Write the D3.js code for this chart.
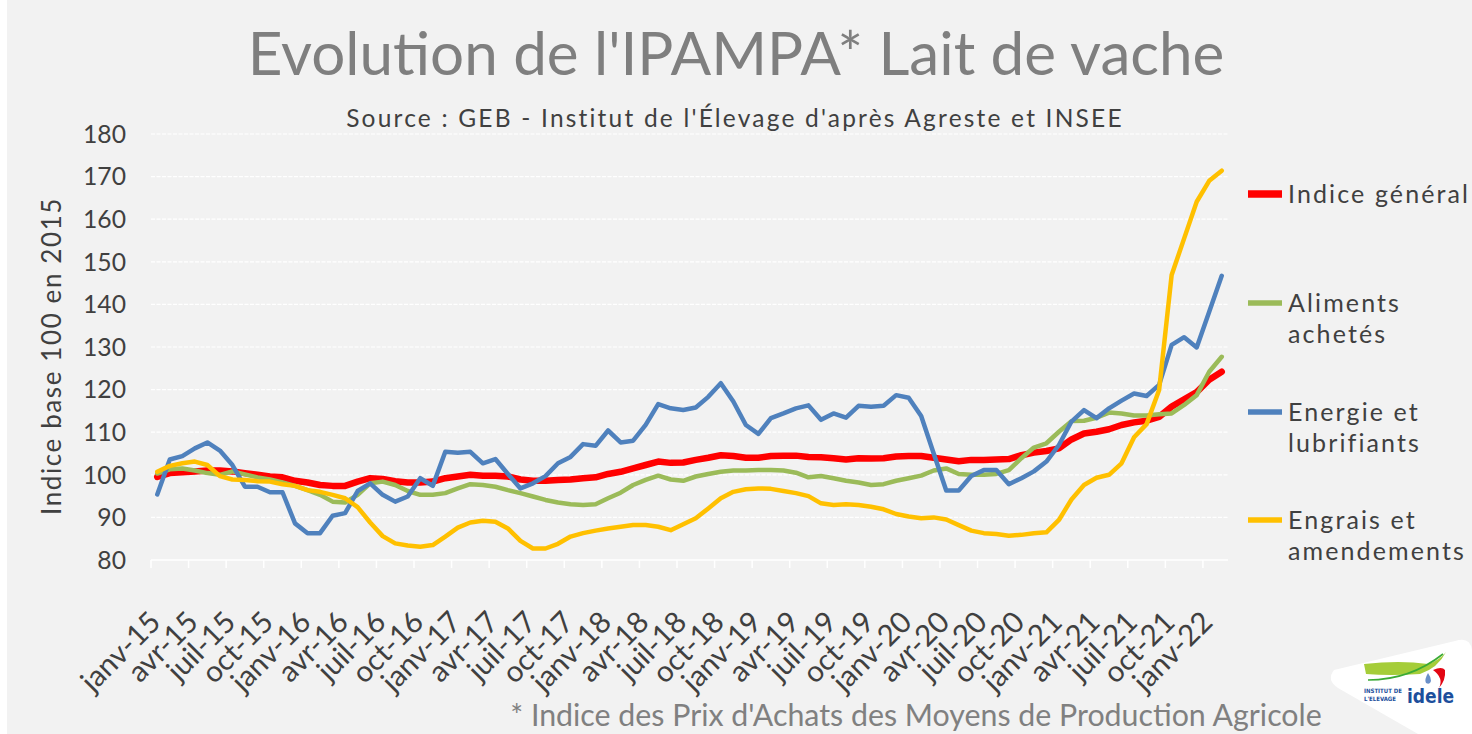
<!DOCTYPE html>
<html>
<head>
<meta charset="utf-8">
<script src="https://cdn.jsdelivr.net/npm/d3@7"></script>
<style>
  body { margin: 0; background: #fff; }
  svg { display: block; }
</style>
</head>
<body>
<div id="chart"></div>
<script>
var categories = [
  "janv-15","févr-15","mars-15","avr-15","mai-15","juin-15","juil-15","août-15","sept-15","oct-15","nov-15","déc-15",
  "janv-16","févr-16","mars-16","avr-16","mai-16","juin-16","juil-16","août-16","sept-16","oct-16","nov-16","déc-16",
  "janv-17","févr-17","mars-17","avr-17","mai-17","juin-17","juil-17","août-17","sept-17","oct-17","nov-17","déc-17",
  "janv-18","févr-18","mars-18","avr-18","mai-18","juin-18","juil-18","août-18","sept-18","oct-18","nov-18","déc-18",
  "janv-19","févr-19","mars-19","avr-19","mai-19","juin-19","juil-19","août-19","sept-19","oct-19","nov-19","déc-19",
  "janv-20","févr-20","mars-20","avr-20","mai-20","juin-20","juil-20","août-20","sept-20","oct-20","nov-20","déc-20",
  "janv-21","févr-21","mars-21","avr-21","mai-21","juin-21","juil-21","août-21","sept-21","oct-21","nov-21","déc-21",
  "janv-22","févr-22"
];

var xTickLabels = [
  "janv-15","avr-15","juil-15","oct-15","janv-16","avr-16","juil-16","oct-16",
  "janv-17","avr-17","juil-17","oct-17","janv-18","avr-18","juil-18","oct-18",
  "janv-19","avr-19","juil-19","oct-19","janv-20","avr-20","juil-20","oct-20",
  "janv-21","avr-21","juil-21","oct-21","janv-22"
];

var yTicks = [80, 90, 100, 110, 120, 130, 140, 150, 160, 170, 180];

// Indice général
var indiceGeneral = [
  99.5, 100.4, 100.6, 100.8, 101.0, 101.0, 100.8, 100.4, 100.0, 99.6, 99.4, 98.6,
  98.2, 97.6, 97.4, 97.4, 98.4, 99.2, 99.0, 98.5, 98.2, 98.2, 98.4, 99.2,
  99.6, 100.0, 99.8, 99.8, 99.6, 98.9, 98.6, 98.6, 98.8, 98.9, 99.2, 99.4,
  100.2, 100.7, 101.5, 102.3, 103.1, 102.8, 102.9, 103.5, 104.0, 104.6, 104.4, 104.0,
  104.0, 104.4, 104.5, 104.5, 104.2, 104.1, 103.9, 103.6, 103.9, 103.8, 103.9, 104.3,
  104.4, 104.4, 104.0, 103.6, 103.2, 103.5, 103.5, 103.6, 103.7, 104.6, 105.2, 105.6,
  106.2, 108.3, 109.7, 110.1, 110.7, 111.7, 112.3, 112.7, 113.6, 116.0, 117.7, 119.4,
  122.3, 124.2
];

// Aliments achetés
var aliments = [
  100.3, 101.3, 101.5, 101.0, 100.4, 100.0, 100.8, 100.1, 99.4, 98.9, 98.2, 97.4,
  96.4, 95.3, 93.7, 93.5, 95.3, 98.0, 98.4, 97.6, 96.2, 95.3, 95.3, 95.7,
  96.8, 97.8, 97.6, 97.2, 96.4, 95.7, 94.9, 94.1, 93.5, 93.1, 92.9, 93.1,
  94.5, 95.8, 97.6, 98.8, 99.8, 98.9, 98.6, 99.6, 100.2, 100.7, 101.0, 101.0,
  101.1, 101.1, 101.0, 100.5, 99.4, 99.7, 99.2, 98.6, 98.2, 97.6, 97.8, 98.6,
  99.2, 99.8, 101.0, 101.5, 100.2, 100.0, 100.0, 100.2, 101.1, 103.9, 106.4, 107.4,
  110.1, 112.6, 112.7, 113.4, 114.6, 114.4, 113.9, 113.9, 114.2, 114.4, 116.4, 118.7,
  124.2, 127.7
];

// Energie et lubrifiants
var energie = [
  95.4, 103.6, 104.4, 106.2, 107.6, 105.7, 102.3, 97.2, 97.2, 95.9, 95.9, 88.6,
  86.3, 86.3, 90.4, 91.0, 96.2, 98.0, 95.3, 93.7, 94.9, 99.2, 97.4, 105.4,
  105.2, 105.4, 102.7, 103.7, 100.2, 96.8, 98.0, 99.7, 102.7, 104.2, 107.2, 106.8,
  110.4, 107.6, 108.0, 111.7, 116.6, 115.6, 115.2, 115.8, 118.3, 121.5, 117.2, 111.7,
  109.6, 113.3, 114.4, 115.6, 116.3, 112.9, 114.4, 113.4, 116.2, 116.0, 116.2, 118.7,
  118.1, 113.8, 105.0, 96.3, 96.3, 99.7, 101.1, 101.1, 97.8, 99.2, 100.8, 103.1,
  107.0, 112.5, 115.2, 113.3, 115.6, 117.4, 119.1, 118.5, 121.1, 130.5, 132.3, 129.9,
  138.3, 146.7
];

// Engrais et amendements
var engrais = [
  100.7, 102.1, 102.7, 103.1, 102.3, 99.7, 98.9, 98.8, 98.5, 98.4, 97.8, 97.4,
  96.4, 96.0, 95.3, 94.5, 92.4, 88.8, 85.6, 83.9, 83.4, 83.1, 83.5, 85.5,
  87.6, 88.8, 89.2, 89.0, 87.4, 84.5, 82.7, 82.7, 83.8, 85.5, 86.3, 86.9,
  87.4, 87.8, 88.2, 88.2, 87.8, 87.0, 88.4, 89.8, 92.1, 94.5, 96.0, 96.6,
  96.8, 96.7, 96.2, 95.7, 95.0, 93.3, 92.9, 93.1, 92.9, 92.5, 91.9, 90.8,
  90.2, 89.8, 90.0, 89.5, 88.2, 86.9, 86.3, 86.1, 85.7, 85.9, 86.3, 86.5,
  89.4, 94.2, 97.6, 99.3, 100.0, 102.7, 108.8, 111.9, 119.9, 146.9, 155.5, 164.1,
  169.0, 171.4
];

var seriesLabels = [["Indice général"], ["Aliments", "achetés"], ["Energie et", "lubrifiants"], ["Engrais et", "amendements"]];
var seriesValues = [indiceGeneral, aliments, energie, engrais];
var seriesColors = ["#ff0000", "#9bbb59", "#4f81bd", "#ffc000"];
var seriesWidths = [6.5, 4.5, 4.5, 4.5];

var width = 1472, height = 734;
var plot = { left: 151, right: 1228, top: 134, bottom: 560 };
var font = "'Century Gothic', Lato, 'Open Sans', sans-serif";

var svg = d3.select("#chart").append("svg")
    .attr("width", width)
    .attr("height", height)
    .style("font-family", font);

svg.append("rect")
    .attr("x", 7).attr("y", 0)
    .attr("width", width - 7).attr("height", height)
    .attr("fill", "#f2f2f2");

var x = d3.scaleBand().domain(categories).range([plot.left, plot.right]);
var y = d3.scaleLinear().domain([80, 180]).range([plot.bottom, plot.top]);
var cx = function(c) { return x(c) + x.bandwidth() / 2; };

// scale font so a reference text gets a target width
function fit(sel, target, ref) {
  var r = ref || sel;
  var fs = parseFloat(r.attr("font-size"));
  var w = r.node().getComputedTextLength();
  sel.attr("font-size", fs * target / w);
}

// keep font size, widen with letter spacing (the original font is wide)
function spread(sel, target, ref) {
  var r = ref || sel;
  var w = r.node().getComputedTextLength();
  var n = r.text().length;
  sel.attr("letter-spacing", Math.max(0, (target - w) / n));
}

// gridlines
svg.append("g")
  .selectAll("line")
  .data(yTicks.slice(1))
  .enter().append("line")
    .attr("x1", plot.left).attr("x2", plot.right)
    .attr("y1", function(d) { return y(d); })
    .attr("y2", function(d) { return y(d); })
    .attr("stroke", "#ffffff")
    .attr("stroke-width", 1.2)
    .attr("stroke-dasharray", "4,1.5");

// x axis line + ticks between categories
svg.append("line")
    .attr("x1", plot.left).attr("x2", plot.right)
    .attr("y1", y(80)).attr("y2", y(80))
    .attr("stroke", "#ffffff").attr("stroke-width", 1.5);

svg.append("g")
  .selectAll("line")
  .data(xTickLabels)
  .enter().append("line")
    .attr("x1", function(d) { return x(d); })
    .attr("x2", function(d) { return x(d); })
    .attr("y1", y(80)).attr("y2", y(80) + 8)
    .attr("stroke", "#ffffff").attr("stroke-width", 1.5);

// y tick labels
var yLab = svg.append("g")
  .selectAll("text")
  .data(yTicks)
  .enter().append("text")
    .attr("x", 126)
    .attr("y", function(d) { return y(d); })
    .attr("dy", "0.36em")
    .attr("text-anchor", "end")
    .attr("font-size", 26)
    .attr("fill", "#404040")
    .text(function(d) { return d; });
fit(yLab, 43, yLab.filter(function(d) { return d === 180; }));

// x tick labels
var xLab = svg.append("g")
  .selectAll("text")
  .data(xTickLabels)
  .enter().append("text")
    .attr("transform", function(d) { return "translate(" + (cx(d) + 5) + ",624) rotate(-45)"; })
    .attr("text-anchor", "end")
    .attr("font-size", 24)
    .attr("fill", "#404040")
    .text(function(d) { return d; });
fit(xLab, 98, xLab.filter(function(d) { return d === "janv-15"; }));

// y axis title
var yTitle = svg.append("text")
    .attr("transform", "translate(52,356) rotate(-90)")
    .attr("dy", "0.36em")
    .attr("text-anchor", "middle")
    .attr("font-size", 26)
    .attr("fill", "#404040")
    .text("Indice base 100 en 2015");
spread(yTitle, 318);

// series
var line = d3.line()
    .x(function(d, i) { return cx(categories[i]); })
    .y(function(d) { return y(d); });

svg.append("g")
  .selectAll("path")
  .data(seriesValues)
  .enter().append("path")
    .attr("d", line)
    .attr("fill", "none")
    .attr("stroke", function(d, i) { return seriesColors[i]; })
    .attr("stroke-width", function(d, i) { return seriesWidths[i]; })
    .attr("stroke-linejoin", "round")
    .attr("stroke-linecap", "round");

// legend
var legendY = [194, 303, 412, 520];
var leg = svg.append("g")
  .selectAll("g")
  .data(seriesLabels)
  .enter().append("g")
    .attr("transform", function(d, i) { return "translate(0," + legendY[i] + ")"; });

leg.append("line")
    .attr("x1", 1248).attr("x2", 1282)
    .attr("stroke", function(d, i) { return seriesColors[i]; })
    .attr("stroke-width", function(d, i) { return seriesWidths[i] + 1; });

var legText = leg.selectAll("text")
  .data(function(d) { return d; })
  .enter().append("text")
    .attr("x", 1288)
    .attr("y", function(d, j) { return j * 31; })
    .attr("dy", "0.36em")
    .attr("font-size", 25)
    .attr("fill", "#404040")
    .text(function(d) { return d; });
spread(legText, 178, legText.filter(function(d) { return d === "amendements"; }));

// titles
var title = svg.append("text")
    .attr("x", 736).attr("y", 75)
    .attr("text-anchor", "middle")
    .attr("font-size", 56)
    .attr("fill", "#7f7f7f")
    .text("Evolution de l'IPAMPA* Lait de vache");
fit(title, 977);

var sub = svg.append("text")
    .attr("x", 735).attr("y", 127)
    .attr("text-anchor", "middle")
    .attr("font-size", 24.5)
    .attr("fill", "#404040")
    .text("Source : GEB - Institut de l'Élevage d'après Agreste et INSEE");
spread(sub, 778);

var foot = svg.append("text")
    .attr("x", 916).attr("y", 726)
    .attr("text-anchor", "middle")
    .attr("font-size", 26)
    .attr("fill", "#808080")
    .text("* Indice des Prix d'Achats des Moyens de Production Agricole");
fit(foot, 812);

// logo
var logo = svg.append("g");
logo.append("path")
    .attr("d", "M1334,670 Q1326,680 1338,688 L1418,734 L1472,734 L1472,650 Q1470,636 1455,641 Z")
    .attr("fill", "#ffffff");
logo.append("path")
    .attr("d", "M1364,664 Q1400,660 1428,664 Q1440,660 1446,652 Q1438,668 1420,674 Q1390,676 1366,674 Z")
    .attr("fill", "#a5cd39");
logo.append("path")
    .attr("d", "M1368,680 Q1410,680 1443,654")
    .attr("fill", "none").attr("stroke", "#3aaa35").attr("stroke-width", 1.6);
logo.append("path")
    .attr("d", "M1433,670 Q1442,666 1445,670 Q1446,680 1439,688 Q1444,678 1433,670 Z")
    .attr("fill", "#e30613");
logo.append("path")
    .attr("d", "M1428,673 Q1424,680 1426,683 Q1430,685 1431,681 Q1431,677 1428,673 Z")
    .attr("fill", "#6a8fc8");
logo.append("text")
    .attr("x", 1364).attr("y", 693)
    .attr("font-family", "'DejaVu Sans Condensed', sans-serif")
    .attr("font-weight", "bold").attr("font-size", 6).attr("fill", "#1d4f9c")
    .text("INSTITUT DE");
logo.append("text")
    .attr("x", 1364).attr("y", 701)
    .attr("font-family", "'DejaVu Sans Condensed', sans-serif")
    .attr("font-weight", "bold").attr("font-size", 6).attr("fill", "#1d4f9c")
    .text("L'ELEVAGE");
logo.append("text")
    .attr("x", 1407).attr("y", 703)
    .attr("font-family", "'DejaVu Sans Condensed', sans-serif")
    .attr("font-weight", "bold").attr("font-size", 19).attr("fill", "#1d4f9c")
    .text("idele");
</script>
</body>
</html>
